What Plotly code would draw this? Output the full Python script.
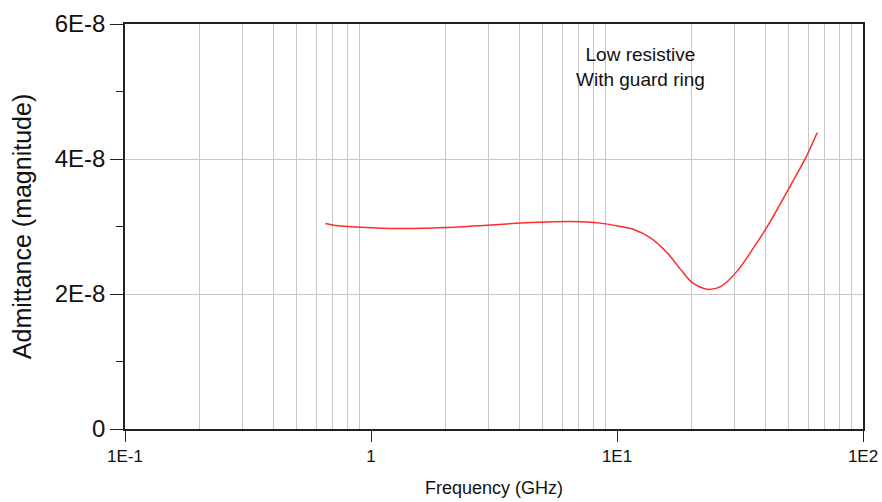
import plotly.graph_objects as go

# Data
freq_ghz = [0.653, 0.706, 0.906, 1.318, 2.01, 2.97, 4.05, 5.53, 7.11, 8.57,
            10.17, 11.70, 13.68, 16.0, 18.12, 20.22, 23.27, 26.35, 30.81,
            35.98, 40.8, 50.7, 58.4, 65.2]
admittance = [3.044e-8, 3.02e-8, 2.99e-8, 2.97e-8, 2.985e-8, 3.02e-8, 3.05e-8,
              3.07e-8, 3.07e-8, 3.05e-8, 3.004e-8, 2.956e-8, 2.833e-8, 2.611e-8,
              2.365e-8, 2.168e-8, 2.069e-8, 2.109e-8, 2.339e-8, 2.69e-8,
              2.999e-8, 3.606e-8, 4.012e-8, 4.393e-8]

x_major = [0.1, 1, 10, 100]
x_major_text = ["1E-1", "1", "1E1", "1E2"]
x_minor = [m * d for d in [0.1, 1, 10] for m in range(2, 10)]
y_major = [0, 2e-8, 4e-8, 6e-8]
y_major_text = ["0", "2E-8", "4E-8", "6E-8"]
y_minor = [1e-8, 3e-8, 5e-8]

FONT = "Liberation Sans, Arial, sans-serif"

fig = go.Figure()
fig.add_trace(go.Scatter(
    x=freq_ghz, y=admittance, mode="lines",
    line=dict(color="#ff2a2a", width=1.5, shape="spline", smoothing=0.8),
    showlegend=False, hoverinfo="skip"))

fig.add_annotation(
    x=0.698, y=0.893, xref="paper", yref="paper", xanchor="center", yanchor="middle",
    text="Low resistive<br>With guard ring", showarrow=False,
    font=dict(family=FONT, size=19, color="#111"),
    align="center")

fig.update_layout(
    width=882, height=502,
    margin=dict(l=125, r=19, t=24, b=73),
    paper_bgcolor="white", plot_bgcolor="white",
    font=dict(family=FONT, color="#111"),
    xaxis=dict(
        type="log", range=[-1, 2], automargin=False,
        tickmode="array", tickvals=x_major, ticktext=x_major_text,
        ticks="outside", ticklen=11, tickcolor="#222", tickwidth=1,
        showgrid=False,
        minor=dict(tickmode="array", tickvals=x_minor, showgrid=True,
                   gridcolor="#c8c8c8", gridwidth=1, ticks=""),
        showline=True, linecolor="#222", linewidth=1.5, mirror=True,
        tickfont=dict(size=17),
        title=dict(text="Frequency (GHz)", font=dict(size=18), standoff=16),
        zeroline=False,
    ),
    yaxis=dict(
        range=[0, 6e-8], automargin=False,
        tickmode="array", tickvals=y_major, ticktext=y_major_text,
        ticks="outside", ticklen=13, tickcolor="#222", tickwidth=1,
        showgrid=True, gridcolor="#c8c8c8", gridwidth=1,
        minor=dict(tickmode="array", tickvals=y_minor, ticks="outside",
                   ticklen=7, tickcolor="#222", showgrid=False),
        showline=True, linecolor="#222", linewidth=1.5, mirror=True,
        tickfont=dict(size=24),
        title=dict(text="Admittance (magnitude)", font=dict(size=25), standoff=16),
        zeroline=False,
    ),
)

fig.write_html("out.html")
